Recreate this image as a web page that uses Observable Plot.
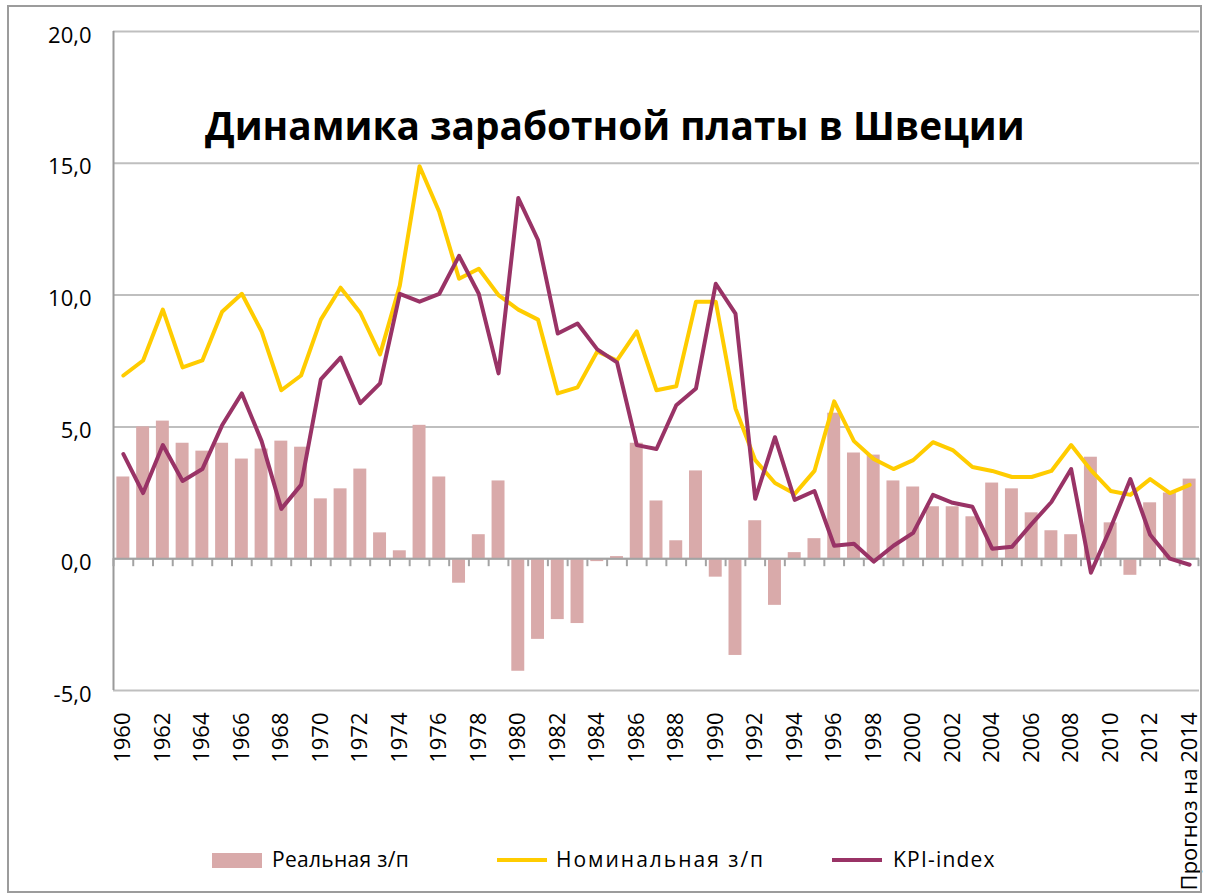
<!DOCTYPE html>
<html>
<head>
<meta charset="utf-8">
<script src="https://cdn.jsdelivr.net/npm/d3@7"></script>
<script src="https://cdn.jsdelivr.net/npm/@observablehq/plot@0.6"></script>
<style>
  body { margin: 0; background: #fff; font-family: "Open Sans", sans-serif; }
  #wrap { position: relative; width: 1205px; height: 895px; overflow: hidden; }
  #frame { position: absolute; left: 7px; top: 5px; width: 1191px; height: 884px; border: 2px solid #9c9c9c; pointer-events: none; }
  #title { position: absolute; left: 205px; top: 106px; font-size: 38.8px; font-weight: 700; white-space: nowrap; line-height: 1; color: #000; }
  .sw { position: absolute; }
  .lt { position: absolute; top: 849px; font-size: 21px; line-height: 21px; white-space: nowrap; color: #000; letter-spacing: 0.6px; }
</style>
</head>
<body>
<div id="wrap">
  <div id="chart"></div>
  <div id="title"></div>
  <div id="legend"></div>
  <div id="frame"></div>
</div>
<script>
const years = [1960,1961,1962,1963,1964,1965,1966,1967,1968,1969,
  1970,1971,1972,1973,1974,1975,1976,1977,1978,1979,
  1980,1981,1982,1983,1984,1985,1986,1987,1988,1989,
  1990,1991,1992,1993,1994,1995,1996,1997,1998,1999,
  2000,2001,2002,2003,2004,2005,2006,2007,2008,2009,
  2010,2011,2012,2013,2014];

const real = [3.10,5.00,5.22,4.38,4.08,4.38,3.78,4.16,4.46,4.23,
  2.27,2.65,3.40,0.98,0.30,5.06,3.10,-0.93,0.91,2.95,
  -4.27,-3.06,-2.31,-2.46,-0.11,0.08,4.38,2.19,0.68,3.33,
  -0.70,-3.67,1.44,-1.77,0.23,0.76,5.52,4.01,3.93,2.95,
  2.72,1.97,1.97,1.59,2.87,2.65,1.74,1.06,0.91,3.85,
  1.36,-0.63,2.12,2.49,3.02];

const nominal = [6.95,7.52,9.45,7.26,7.52,9.37,10.05,8.62,6.39,6.95,
  9.07,10.28,9.33,7.75,10.36,14.89,13.15,10.62,11.00,10.00,
  9.45,9.07,6.27,6.50,7.86,7.52,8.62,6.39,6.54,9.75,
  9.75,5.70,3.74,2.87,2.46,3.33,5.97,4.46,3.78,3.40,
  3.74,4.42,4.12,3.48,3.33,3.10,3.10,3.33,4.31,3.36,
  2.57,2.42,3.02,2.49,2.80];

const kpi = [3.97,2.49,4.31,2.95,3.40,5.06,6.27,4.46,1.89,2.80,
  6.80,7.63,5.90,6.65,10.05,9.75,10.05,11.49,10.05,7.03,
  13.68,12.09,8.54,8.92,7.94,7.45,4.31,4.16,5.82,6.46,
  10.43,9.30,2.27,4.61,2.23,2.57,0.49,0.57,-0.11,0.49,
  0.98,2.42,2.12,1.97,0.38,0.45,1.32,2.15,3.40,-0.53,
  1.17,3.02,0.91,0.00,-0.23];

const labelYears = [1960,1962,1964,1966,1968,1970,1972,1974,1976,1978,1980,1982,1984,1986,
  1988,1990,1992,1994,1996,1998,2000,2002,2004,2006,2008,2010,2012,2014];
const lastLabel = "Прогноз на 2014";
const yTicks = [-5, 0, 5, 10, 15, 20];
const titleText = "Динамика заработной платы в Швеции";
const seriesNames = ["Реальная з/п", "Номинальная з/п", "KPI-index"];
const colors = {real: "#d9aaaa", nominal: "#ffcc00", kpi: "#993366"};

const data = years.map((year, i) => ({year, real: real[i], nominal: nominal[i], kpi: kpi[i]}));

const W = 1205, H = 895, mL = 113, mR = 6, mT = 31, mB = 205;
const half = (W - mL - mR) / years.length / 2;

const chart = Plot.plot({
  width: W, height: H,
  marginLeft: mL, marginRight: mR, marginTop: mT, marginBottom: mB,
  style: {fontFamily: "Open Sans, sans-serif", fontSize: "22px", color: "#000", background: "transparent", overflow: "visible"},
  x: {type: "band", domain: years, padding: 0},
  y: {domain: [-5, 20]},
  marks: [
    Plot.gridY(yTicks, {stroke: "#bfbfbf", strokeOpacity: 1, strokeWidth: 2}),
    Plot.ruleX([years[0]], {y1: -5, y2: 20, dx: -half, stroke: "#9a9a9a", strokeWidth: 2}),
    Plot.barY(data, {x: "year", y: "real", fill: colors.real, insetLeft: 3.4, insetRight: 3.4}),
    Plot.ruleY([0], {stroke: "#a3a3a3", strokeWidth: 2}),
    Plot.ruleX(years, {x: d => d, y1: 0, y2: 0, insetBottom: -8, dx: -half, stroke: "#a3a3a3", strokeWidth: 2}),
    Plot.ruleX([years[years.length - 1]], {x: d => d, y1: 0, y2: 0, insetBottom: -8, dx: half - 1, stroke: "#a3a3a3", strokeWidth: 2}),
    Plot.lineY(data, {x: "year", y: "nominal", stroke: colors.nominal, strokeWidth: 4, strokeLinejoin: "round", strokeLinecap: "round"}),
    Plot.lineY(data, {x: "year", y: "kpi", stroke: colors.kpi, strokeWidth: 4, strokeLinejoin: "round", strokeLinecap: "round"}),
    Plot.axisY(yTicks, {tickSize: 0, tickPadding: 22, dy: 4, fontSize: 22, tickFormat: d => d.toFixed(1).replace(".", ","), label: null}),
    Plot.axisX(labelYears, {tickSize: 0, tickPadding: 22, tickRotate: -90, fontSize: 22, label: null,
      tickFormat: d => d === years[years.length - 1] ? lastLabel : String(d)})
  ]
});
document.getElementById("chart").appendChild(chart);

document.getElementById("title").textContent = titleText;

const legend = document.getElementById("legend");
const items = [
  {name: seriesNames[0], type: "rect", color: colors.real, sx: 212, tx: 272, ls: 0.3},
  {name: seriesNames[1], type: "line", color: colors.nominal, sx: 497, tx: 556, ls: 2.0},
  {name: seriesNames[2], type: "line", color: colors.kpi, sx: 832, tx: 893, ls: 1.2}
];
for (const it of items) {
  const s = document.createElement("div");
  s.className = "sw";
  s.style.left = it.sx + "px";
  s.style.width = "50px";
  s.style.background = it.color;
  if (it.type === "rect") { s.style.top = "853px"; s.style.height = "15px"; }
  else { s.style.top = "858px"; s.style.height = "4px"; }
  legend.appendChild(s);
  const t = document.createElement("div");
  t.className = "lt";
  t.style.left = it.tx + "px";
  t.style.letterSpacing = it.ls + "px";
  t.textContent = it.name;
  legend.appendChild(t);
}
</script>
</body>
</html>
